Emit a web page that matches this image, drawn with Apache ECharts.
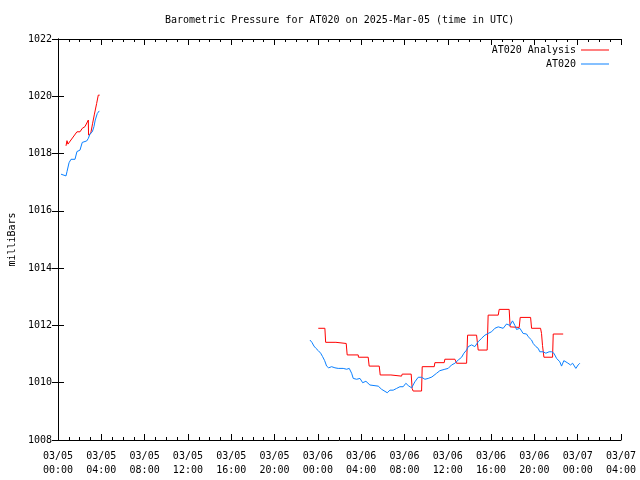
<!DOCTYPE html>
<html>
<head>
<meta charset="utf-8">
<script src="https://cdn.jsdelivr.net/npm/echarts@6/dist/echarts.min.js"></script>
<style>html,body{margin:0;padding:0;background:#fff}#c{width:640px;height:480px}</style>
</head>
<body>
<div id="c"></div>
<script>
// Hours since 03/05 00:00 UTC; null marks a gap in the record
var analysisHours = [0.74,0.83,0.92,1.75,2.03,2.24,2.49,2.80,2.82,3.02,3.20,3.35,3.57,3.72,3.85,
  null,
  24.04,24.65,24.72,25.67,25.71,26.62,26.71,27.73,27.75,28.65,28.74,29.67,29.76,30.75,30.77,31.73,31.79,32.62,32.71,32.80,33.58,33.64,34.75,34.81,35.67,35.73,36.66,36.81,37.74,37.83,38.66,38.71,38.81,39.64,39.73,40.66,40.75,41.67,41.76,41.82,42.60,42.69,43.65,43.74,44.57,44.66,44.75,44.88,45.68,45.74,46.66];
var analysisPressure = [1018.27,1018.45,1018.33,1018.76,1018.76,1018.88,1018.94,1019.17,1018.65,1018.70,1019.06,1019.35,1019.75,1020.04,1020.04,
  null,
  1011.90,1011.90,1011.41,1011.41,1011.37,1011.37,1010.97,1010.97,1010.89,1010.89,1010.58,1010.58,1010.27,1010.27,1010.23,1010.23,1010.30,1010.30,1009.80,1009.71,1009.71,1010.56,1010.56,1010.70,1010.70,1010.82,1010.82,1010.68,1010.68,1011.66,1011.66,1011.61,1011.14,1011.14,1012.36,1012.36,1012.56,1012.56,1011.95,1011.93,1011.93,1012.28,1012.28,1011.90,1011.90,1011.72,1011.30,1010.89,1010.89,1011.70,1011.70];

var obsHours = [0.28,0.46,0.74,0.83,1.02,1.20,1.57,1.75,1.87,2.03,2.24,2.65,2.80,2.95,3.17,3.32,3.44,3.63,3.81,
  null,
  23.27,23.45,23.64,23.82,24.04,24.26,24.44,24.63,24.81,25.00,25.27,25.58,25.88,26.04,26.34,26.66,26.90,27.12,27.27,27.58,27.89,28.14,28.44,28.81,29.58,29.89,30.41,30.66,30.96,31.27,31.58,31.88,32.13,32.35,32.66,32.96,33.27,33.58,33.89,34.19,34.53,34.97,35.27,35.73,36.04,36.35,36.66,36.96,37.28,37.49,37.74,37.89,38.20,38.50,38.81,39.12,39.43,39.73,40.05,40.35,40.66,40.81,41.12,41.43,41.74,41.98,42.20,42.35,42.66,42.96,43.28,43.42,43.74,43.89,44.14,44.35,44.50,44.81,45.06,45.36,45.59,45.80,46.05,46.35,46.51,46.72,47.03,47.34,47.53,47.83,48.04,48.20];
var obsPressure = [1017.28,1017.22,1017.22,1017.37,1017.68,1017.80,1017.80,1018.07,1018.12,1018.12,1018.39,1018.44,1018.53,1018.68,1018.76,1018.94,1019.17,1019.40,1019.49,
  null,
  1011.49,1011.41,1011.28,1011.20,1011.12,1011.03,1010.91,1010.77,1010.58,1010.52,1010.56,1010.52,1010.50,1010.44,1010.50,1010.47,1010.50,1010.33,1010.15,1010.12,1010.15,1010.00,1010.05,1009.92,1009.88,1009.77,1009.65,1009.74,1009.74,1009.80,1009.86,1009.86,1009.98,1009.90,1009.82,1010.03,1010.19,1010.19,1010.12,1010.15,1010.20,1010.33,1010.42,1010.47,1010.50,1010.62,1010.68,1010.79,1010.89,1011.03,1011.14,1011.26,1011.32,1011.26,1011.43,1011.55,1011.66,1011.72,1011.78,1011.90,1011.95,1011.90,1011.90,1012.05,1012.00,1012.16,1012.00,1011.86,1011.90,1011.72,1011.70,1011.61,1011.49,1011.37,1011.26,1011.20,1011.08,1011.08,1011.03,1011.08,1011.08,1011.03,1010.85,1010.73,1010.58,1010.77,1010.70,1010.62,1010.68,1010.50,1010.62,1010.68];

var xMinHours = 0, xMaxHours = 52, xStepHours = 4;
var yMin = 1008, yMax = 1022, yStep = 2;
var titleText = 'Barometric Pressure for AT020 on 2025-Mar-05 (time in UTC)';
var yName = 'milliBars';
var nameAnalysis = 'AT020 Analysis', nameObs = 'AT020';

function pairs(hs, ps) {
  return hs.map(function (h, i) { return (h === null || ps[i] === null) ? ['-', '-'] : [h, ps[i]]; });
}
function pad(n) { return (n < 10 ? '0' : '') + n; }
function tickLabel(h) {
  var day = 5 + Math.floor(h / 24), hr = h % 24;
  return '03/' + pad(day) + '\n' + pad(hr) + ':00';
}

var FONT = 'DejaVu Sans Mono';
var black = '#000';
var chart = echarts.init(document.getElementById('c'), null, {renderer: 'canvas'});
var baseX = {
  type: 'value', min: xMinHours, max: xMaxHours, interval: xStepHours,
  axisLine: {show: true, lineStyle: {color: black, width: 1}},
  axisTick: {show: true, inside: true, length: 6, lineStyle: {color: black}},
  minorTick: {show: true, splitNumber: 4, length: 3, lineStyle: {color: black}},
  splitLine: {show: false}, minorSplitLine: {show: false}
};
var baseY = {
  type: 'value', min: yMin, max: yMax, interval: yStep,
  axisLine: {show: true, lineStyle: {color: black, width: 1}},
  axisTick: {show: true, inside: true, length: 6, lineStyle: {color: black}},
  splitLine: {show: false}
};
var legendCommon = {right: 31, align: 'right', itemWidth: 28, itemHeight: 1, itemGap: 6, padding: 0,
  textStyle: {fontFamily: FONT, fontSize: 10, color: black}, selectedMode: false};
chart.setOption({
  animation: false,
  backgroundColor: '#fff',
  title: {
    text: titleText, left: 165, top: 15, padding: 0,
    textStyle: {fontFamily: FONT, fontSize: 10, fontWeight: 'normal', color: black}
  },
  grid: {left: 58, right: 19, top: 39, bottom: 40, show: false, containLabel: false, outerBoundsMode: 'none'},
  legend: [
    Object.assign({data: [{name: nameAnalysis, icon: 'rect'}], top: 45}, legendCommon),
    Object.assign({data: [{name: nameObs, icon: 'rect'}], top: 59}, legendCommon)
  ],
  xAxis: [
    Object.assign({}, baseX, {position: 'bottom',
      axisLabel: {show: true, formatter: tickLabel, fontFamily: FONT, fontSize: 10, color: black, lineHeight: 14, margin: 9,
        showMinLabel: true, showMaxLabel: true}}),
    Object.assign({}, baseX, {position: 'top', axisLabel: {show: false}})
  ],
  yAxis: [
    Object.assign({}, baseY, {position: 'left', name: yName, nameLocation: 'middle', nameRotate: 90, nameGap: 38,
      nameTextStyle: {fontFamily: FONT, fontSize: 10, color: black},
      axisLabel: {show: true, fontFamily: FONT, fontSize: 10, color: black, margin: 6,
        formatter: function (v) { return String(v); }}}),
    Object.assign({}, baseY, {position: 'right', axisLabel: {show: false}})
  ],
  series: [
    {name: nameAnalysis, type: 'line', data: pairs(analysisHours, analysisPressure), showSymbol: false, symbol: 'none',
     connectNulls: false, lineStyle: {color: '#ff0000', width: 1}, itemStyle: {color: '#ff0000'}},
    {name: nameObs, type: 'line', data: pairs(obsHours, obsPressure), showSymbol: false, symbol: 'none',
     connectNulls: false, lineStyle: {color: '#0a80ff', width: 1}, itemStyle: {color: '#0a80ff'}}
  ]
});
</script>
</body>
</html>
